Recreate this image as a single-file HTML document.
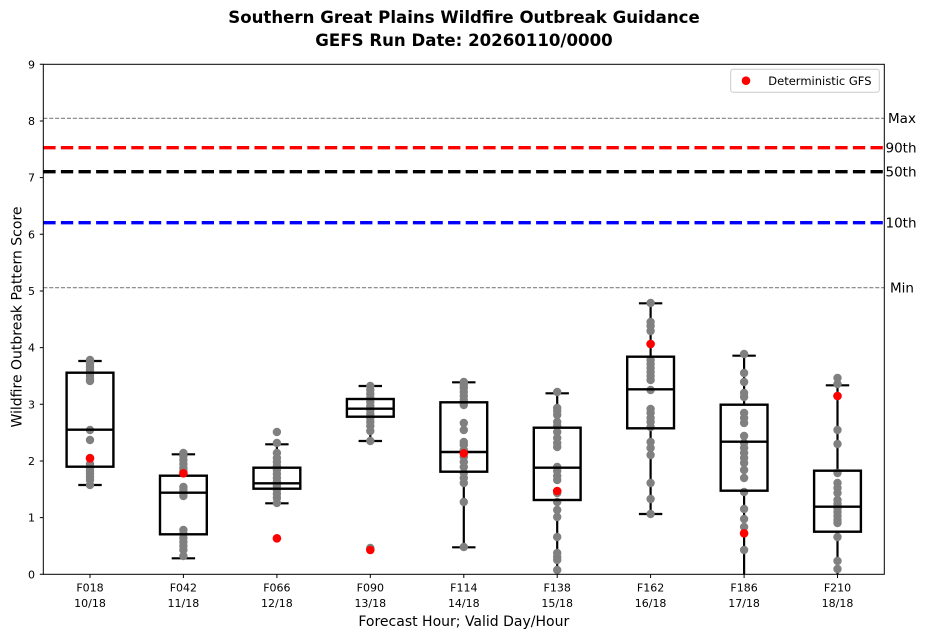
<!DOCTYPE html>
<html><head><meta charset="utf-8"><style>
html,body{margin:0;padding:0;background:#fff;}
svg{display:block;font-family:"DejaVu Sans","Liberation Sans",sans-serif;}
</style></head><body>
<svg width="926" height="637" viewBox="0 0 926 637" xmlns="http://www.w3.org/2000/svg">
<defs><clipPath id="pc"><rect x="43.3" y="64.3" width="841" height="510"/></clipPath></defs>
<rect x="0" y="0" width="926" height="637" fill="#fff"/>
<text x="464" y="23" font-size="16.6" font-weight="bold" text-anchor="middle" fill="#000">Southern Great Plains Wildfire Outbreak Guidance</text>
<text x="464" y="46" font-size="16.6" font-weight="bold" text-anchor="middle" fill="#000">GEFS Run Date: 20260110/0000</text>

<g clip-path="url(#pc)">
<line x1="43.3" x2="884.3" y1="118.3" y2="118.3" stroke="#808080" stroke-width="1.1" stroke-dasharray="4.1 1.8"/>
<line x1="43.3" x2="884.3" y1="287.7" y2="287.7" stroke="#808080" stroke-width="1.1" stroke-dasharray="4.1 1.8"/>
<line x1="43.3" x2="884.3" y1="147.7" y2="147.7" stroke="#ff0000" stroke-width="3.3" stroke-dasharray="12.3 5.3"/>
<line x1="43.3" x2="884.3" y1="171.7" y2="171.7" stroke="#000" stroke-width="3.3" stroke-dasharray="12.3 5.3"/>
<line x1="43.3" x2="884.3" y1="222.7" y2="222.7" stroke="#0000ff" stroke-width="3.3" stroke-dasharray="12.3 5.3"/>

<g stroke="#000" stroke-width="2.2" fill="none">
<path d="M90 361V372.7M90 466.7V485M78.3 361H101.7M78.3 485H101.7"/>
<path d="M183.4 454.3V475.7M183.4 534.3V558.3M171.7 454.3H195.1M171.7 558.3H195.1"/>
<path d="M276.9 444.3V467.7M276.9 488.7V503.3M265.2 444.3H288.6M265.2 503.3H288.6"/>
<path d="M370.3 386V399M370.3 416.7V441M358.6 386H382M358.6 441H382"/>
<path d="M463.8 382.3V402.3M463.8 471.7V547.3M452.1 382.3H475.5M452.1 547.3H475.5"/>
<path d="M557.2 393.3V427.7M557.2 500V576M545.5 393.3H568.9"/>
<path d="M650.6 303.3V356.7M650.6 428.3V514M638.9 303.3H662.3M638.9 514H662.3"/>
<path d="M744.1 355.7V404.7M744.1 490.7V576M732.4 355.7H755.8"/>
<path d="M837.5 385.3V470.7M837.5 531.7V576M825.8 385.3H849.2"/>
</g>

<g fill="#808080">
<g transform="translate(90,0)"><circle cy="360" r="4.2"/><circle cy="362" r="4.2"/><circle cy="364" r="4.2"/><circle cy="367" r="4.2"/><circle cy="370" r="4.2"/><circle cy="373" r="4.2"/><circle cy="376" r="4.2"/><circle cy="379" r="4.2"/><circle cy="381" r="4.2"/><circle cy="430" r="4.2"/><circle cy="440" r="4.2"/><circle cy="458" r="4.2"/><circle cy="464" r="4.2"/><circle cy="468" r="4.2"/><circle cy="471" r="4.2"/><circle cy="474" r="4.2"/><circle cy="477" r="4.2"/><circle cy="480" r="4.2"/><circle cy="485" r="4.2"/></g>
<g transform="translate(183.4,0)"><circle cy="453" r="4.2"/><circle cy="456" r="4.2"/><circle cy="460" r="4.2"/><circle cy="464" r="4.2"/><circle cy="468" r="4.2"/><circle cy="471" r="4.2"/><circle cy="487" r="4.2"/><circle cy="490" r="4.2"/><circle cy="493" r="4.2"/><circle cy="496" r="4.2"/><circle cy="530" r="4.2"/><circle cy="534" r="4.2"/><circle cy="538" r="4.2"/><circle cy="542" r="4.2"/><circle cy="546" r="4.2"/><circle cy="550" r="4.2"/><circle cy="556" r="4.2"/></g>
<g transform="translate(276.9,0)"><circle cy="432" r="4.2"/><circle cy="443" r="4.2"/><circle cy="453" r="4.2"/><circle cy="458" r="4.2"/><circle cy="462" r="4.2"/><circle cy="466" r="4.2"/><circle cy="470" r="4.2"/><circle cy="474" r="4.2"/><circle cy="478" r="4.2"/><circle cy="482" r="4.2"/><circle cy="486" r="4.2"/><circle cy="490" r="4.2"/><circle cy="494" r="4.2"/><circle cy="498" r="4.2"/><circle cy="503" r="4.2"/></g>
<g transform="translate(370.3,0)"><circle cy="386" r="4.2"/><circle cy="390" r="4.2"/><circle cy="394" r="4.2"/><circle cy="398" r="4.2"/><circle cy="402" r="4.2"/><circle cy="406" r="4.2"/><circle cy="410" r="4.2"/><circle cy="414" r="4.2"/><circle cy="418" r="4.2"/><circle cy="422" r="4.2"/><circle cy="426" r="4.2"/><circle cy="431" r="4.2"/><circle cy="441" r="4.2"/><circle cy="548" r="4.2"/></g>
<g transform="translate(463.8,0)"><circle cy="382" r="4.2"/><circle cy="385" r="4.2"/><circle cy="388" r="4.2"/><circle cy="392" r="4.2"/><circle cy="396" r="4.2"/><circle cy="400" r="4.2"/><circle cy="405" r="4.2"/><circle cy="423" r="4.2"/><circle cy="430" r="4.2"/><circle cy="442" r="4.2"/><circle cy="445" r="4.2"/><circle cy="450" r="4.2"/><circle cy="457" r="4.2"/><circle cy="462" r="4.2"/><circle cy="467" r="4.2"/><circle cy="473" r="4.2"/><circle cy="478" r="4.2"/><circle cy="483" r="4.2"/><circle cy="502" r="4.2"/><circle cy="547" r="4.2"/></g>
<g transform="translate(557.2,0)"><circle cy="392" r="4.2"/><circle cy="408" r="4.2"/><circle cy="411" r="4.2"/><circle cy="415" r="4.2"/><circle cy="422" r="4.2"/><circle cy="426" r="4.2"/><circle cy="432" r="4.2"/><circle cy="438" r="4.2"/><circle cy="443" r="4.2"/><circle cy="447" r="4.2"/><circle cy="467" r="4.2"/><circle cy="471" r="4.2"/><circle cy="476" r="4.2"/><circle cy="480" r="4.2"/><circle cy="493" r="4.2"/><circle cy="502" r="4.2"/><circle cy="510" r="4.2"/><circle cy="517" r="4.2"/><circle cy="537" r="4.2"/><circle cy="553" r="4.2"/><circle cy="557" r="4.2"/><circle cy="560" r="4.2"/><circle cy="570" r="4.2"/></g>
<g transform="translate(650.6,0)"><circle cy="303" r="4.2"/><circle cy="322" r="4.2"/><circle cy="326" r="4.2"/><circle cy="331" r="4.2"/><circle cy="344" r="4.2"/><circle cy="360" r="4.2"/><circle cy="364" r="4.2"/><circle cy="368" r="4.2"/><circle cy="372" r="4.2"/><circle cy="376" r="4.2"/><circle cy="380" r="4.2"/><circle cy="390" r="4.2"/><circle cy="409" r="4.2"/><circle cy="413" r="4.2"/><circle cy="418" r="4.2"/><circle cy="422" r="4.2"/><circle cy="427" r="4.2"/><circle cy="442" r="4.2"/><circle cy="448" r="4.2"/><circle cy="455" r="4.2"/><circle cy="483" r="4.2"/><circle cy="499" r="4.2"/><circle cy="514" r="4.2"/></g>
<g transform="translate(744.1,0)"><circle cy="354" r="4.2"/><circle cy="373" r="4.2"/><circle cy="382" r="4.2"/><circle cy="393" r="4.2"/><circle cy="397" r="4.2"/><circle cy="413" r="4.2"/><circle cy="418" r="4.2"/><circle cy="423" r="4.2"/><circle cy="436" r="4.2"/><circle cy="443" r="4.2"/><circle cy="448" r="4.2"/><circle cy="453" r="4.2"/><circle cy="458" r="4.2"/><circle cy="463" r="4.2"/><circle cy="470" r="4.2"/><circle cy="478" r="4.2"/><circle cy="492" r="4.2"/><circle cy="509" r="4.2"/><circle cy="519" r="4.2"/><circle cy="527" r="4.2"/><circle cy="550" r="4.2"/></g>
<g transform="translate(837.5,0)"><circle cy="378" r="4.2"/><circle cy="384" r="4.2"/><circle cy="396" r="4.2"/><circle cy="430" r="4.2"/><circle cy="444" r="4.2"/><circle cy="473" r="4.2"/><circle cy="483" r="4.2"/><circle cy="488" r="4.2"/><circle cy="493" r="4.2"/><circle cy="500" r="4.2"/><circle cy="504" r="4.2"/><circle cy="508" r="4.2"/><circle cy="512" r="4.2"/><circle cy="516" r="4.2"/><circle cy="520" r="4.2"/><circle cy="523" r="4.2"/><circle cy="537" r="4.2"/><circle cy="561" r="4.2"/><circle cy="569" r="4.2"/></g>
</g>

<g stroke="#000" stroke-width="2.4" fill="none">
<rect x="66.6" y="372.7" width="46.8" height="94"/><line x1="66.6" x2="113.4" y1="429.7" y2="429.7"/>
<rect x="160" y="475.7" width="46.8" height="58.6"/><line x1="160" x2="206.8" y1="492.7" y2="492.7"/>
<rect x="253.5" y="467.7" width="46.8" height="21"/><line x1="253.5" x2="300.3" y1="483.3" y2="483.3"/>
<rect x="346.9" y="399" width="46.8" height="17.7"/><line x1="346.9" x2="393.7" y1="408.7" y2="408.7"/>
<rect x="440.4" y="402.3" width="46.8" height="69.4"/><line x1="440.4" x2="487.2" y1="452" y2="452"/>
<rect x="533.8" y="427.7" width="46.8" height="72.3"/><line x1="533.8" x2="580.6" y1="467.7" y2="467.7"/>
<rect x="627.2" y="356.7" width="46.8" height="71.6"/><line x1="627.2" x2="674" y1="389.3" y2="389.3"/>
<rect x="720.7" y="404.7" width="46.8" height="86"/><line x1="720.7" x2="767.5" y1="441.7" y2="441.7"/>
<rect x="814.1" y="470.7" width="46.8" height="61"/><line x1="814.1" x2="860.9" y1="506.7" y2="506.7"/>
</g>

<g fill="#ff0000">
<circle cx="90" cy="458.3" r="4.3"/>
<circle cx="183.4" cy="473.3" r="4.3"/>
<circle cx="276.9" cy="538.3" r="4.3"/>
<circle cx="370.3" cy="550" r="4.3"/>
<circle cx="463.8" cy="453.3" r="4.3"/>
<circle cx="557.2" cy="491" r="4.3"/>
<circle cx="650.6" cy="344" r="4.3"/>
<circle cx="744.1" cy="533.3" r="4.3"/>
<circle cx="837.5" cy="396" r="4.3"/>
</g>
</g>

<rect x="43.3" y="64.3" width="841" height="510" fill="none" stroke="#000" stroke-width="1"/>

<g stroke="#000" stroke-width="1">
<path d="M39.8 574.3H43.3M39.8 517.6H43.3M39.8 461H43.3M39.8 404.3H43.3M39.8 347.6H43.3M39.8 291H43.3M39.8 234.3H43.3M39.8 177.6H43.3M39.8 121H43.3M39.8 64.3H43.3"/>
<path d="M90 574.3V578M183.4 574.3V578M276.9 574.3V578M370.3 574.3V578M463.8 574.3V578M557.2 574.3V578M650.6 574.3V578M744.1 574.3V578M837.5 574.3V578"/>
</g>
<g font-size="11" text-anchor="end" fill="#000">
<text x="35" y="578.3">0</text><text x="35" y="521.6">1</text><text x="35" y="465">2</text><text x="35" y="408.3">3</text><text x="35" y="351.6">4</text><text x="35" y="295">5</text><text x="35" y="238.3">6</text><text x="35" y="181.6">7</text><text x="35" y="125">8</text><text x="35" y="68.3">9</text>
</g>
<g font-size="11" text-anchor="middle" fill="#000">
<text x="90" y="591.5">F018</text><text x="90" y="607">10/18</text>
<text x="183.4" y="591.5">F042</text><text x="183.4" y="607">11/18</text>
<text x="276.9" y="591.5">F066</text><text x="276.9" y="607">12/18</text>
<text x="370.3" y="591.5">F090</text><text x="370.3" y="607">13/18</text>
<text x="463.8" y="591.5">F114</text><text x="463.8" y="607">14/18</text>
<text x="557.2" y="591.5">F138</text><text x="557.2" y="607">15/18</text>
<text x="650.6" y="591.5">F162</text><text x="650.6" y="607">16/18</text>
<text x="744.1" y="591.5">F186</text><text x="744.1" y="607">17/18</text>
<text x="837.5" y="591.5">F210</text><text x="837.5" y="607">18/18</text>
</g>
<text x="463.8" y="626" font-size="14" text-anchor="middle" fill="#000">Forecast Hour; Valid Day/Hour</text>
<text transform="translate(21.5,317) rotate(-90)" font-size="14" text-anchor="middle" fill="#000">Wildfire Outbreak Pattern Score</text>

<g font-size="13.5" text-anchor="middle" fill="#000">
<text x="902" y="123.2">Max</text>
<text x="901" y="152.6">90th</text>
<text x="901" y="176.6">50th</text>
<text x="901" y="227.6">10th</text>
<text x="902" y="292.6">Min</text>
</g>

<rect x="730.7" y="69.3" width="148.6" height="23" rx="2.5" fill="#fff" fill-opacity="0.8" stroke="#cccccc" stroke-width="1"/>
<circle cx="746" cy="80.7" r="4.3" fill="#ff0000"/>
<text x="768.3" y="84.8" font-size="11.5" fill="#000">Deterministic GFS</text>
</svg>
</body></html>
